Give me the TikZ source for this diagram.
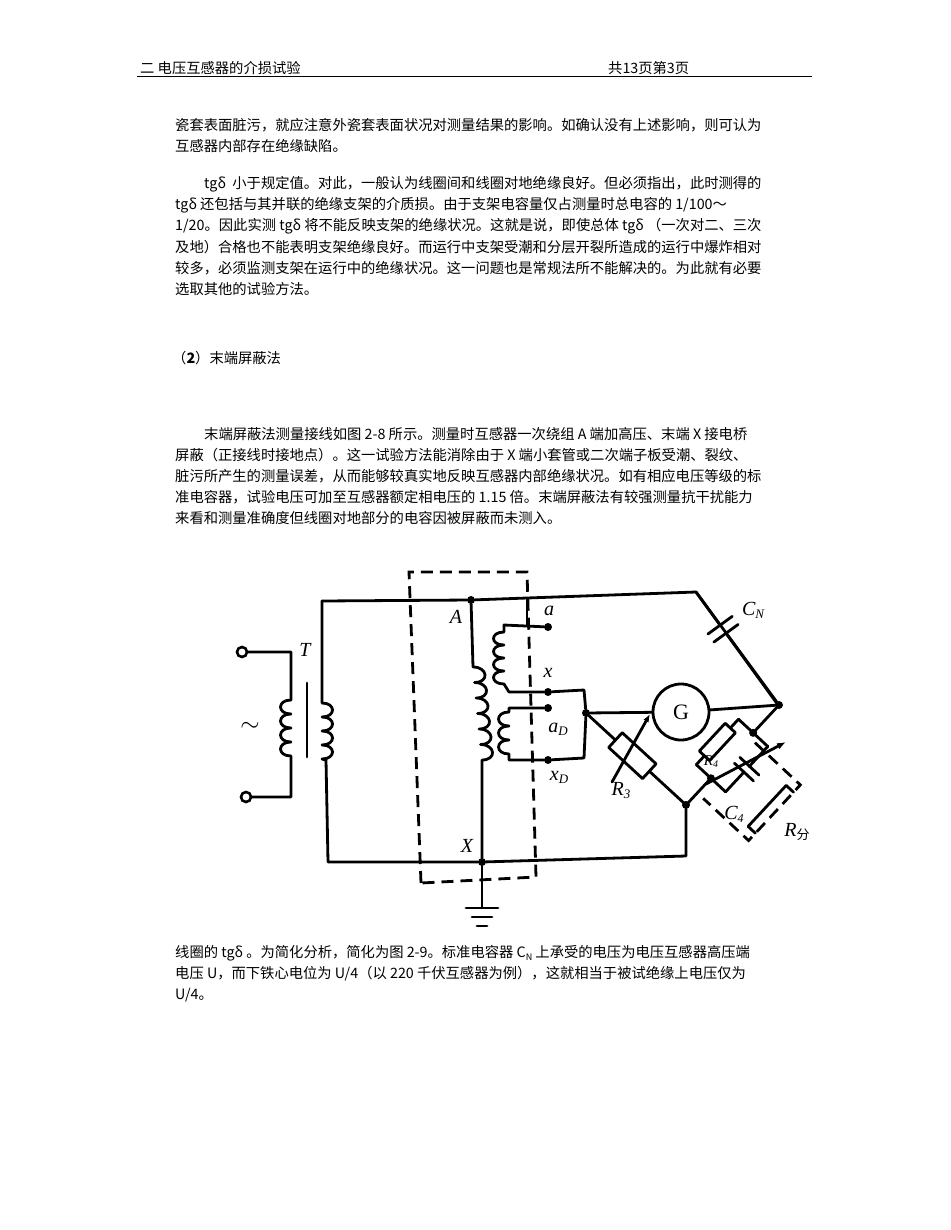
\documentclass[tikz,border=0pt]{standalone}
\usepackage{fontspec}
\setmainfont{Liberation Serif}
\newfontfamily\cjk{Noto Sans CJK SC}
\usetikzlibrary{arrows.meta}
\tikzset{
  wire/.style={line width=2.8pt, line join=round, line cap=round},
  shield/.style={line width=2.8pt, dash pattern=on 12pt off 7pt},
  dotn/.style={circle, fill=black, inner sep=0pt, minimum size=8pt},
  term/.style={circle, draw, line width=2.6pt, fill=white, inner sep=0pt, minimum size=10pt},
  lab/.style={font=\fontsize{20}{20}\selectfont\itshape, inner sep=0pt},
  txt/.style={font=\cjk\fontsize{14.3}{14.3}\selectfont, anchor=west, inner sep=0pt},
}
\begin{document}
\begin{tikzpicture}[x=1pt,y=-1pt]
\useasboundingbox[fill=white] (0,0) rectangle (950,1230);
% header
\node[txt] (h1) at (140,68) {二 电压互感器的介损试验};
\node[txt] (h2) at (608,68) {共13页第3页};
\draw[line width=0.8pt] (137,76) -- (812,76);
% body text
\node[txt] (t1) at (175,125) {瓷套表面脏污，就应注意外瓷套表面状况对测量结果的影响。如确认没有上述影响，则可认为};
\node[txt] (t2) at (175,146) {互感器内部存在绝缘缺陷。};
\node[txt] (t3) at (204,184) {tgδ\ \ 小于规定值。对此，一般认为线圈间和线圈对地绝缘良好。但必须指出，此时测得的};
\node[txt] (t4) at (175,205) {tgδ 还包括与其并联的绝缘支架的介质损。由于支架电容量仅占测量时总电容的 1/100～};
\node[txt] (t5) at (175,226) {1/20。因此实测 tgδ 将不能反映支架的绝缘状况。这就是说，即使总体 tgδ （一次对二、三次};
\node[txt] (t6) at (175,247) {及地）合格也不能表明支架绝缘良好。而运行中支架受潮和分层开裂所造成的运行中爆炸相对};
\node[txt] (t7) at (175,268) {较多，必须监测支架在运行中的绝缘状况。这一问题也是常规法所不能解决的。为此就有必要};
\node[txt] (t8) at (175,289) {选取其他的试验方法。};
\node[txt] (t9) at (172,358) {（\textbf{2}）末端屏蔽法};
\node[txt] (t10) at (204,434) {末端屏蔽法测量接线如图 2-8 所示。测量时互感器一次绕组 A 端加高压、末端 X 接电桥};
\node[txt] (t11) at (175,455) {屏蔽（正接线时接地点）。这一试验方法能消除由于 X 端小套管或二次端子板受潮、裂纹、};
\node[txt] (t12) at (175,476) {脏污所产生的测量误差，从而能够较真实地反映互感器内部绝缘状况。如有相应电压等级的标};
\node[txt] (t13) at (175,497) {准电容器，试验电压可加至互感器额定相电压的 1.15 倍。末端屏蔽法有较强测量抗干扰能力};
\node[txt] (t14) at (175,518) {来看和测量准确度但线圈对地部分的电容因被屏蔽而未测入。};
\node[txt] (t15) at (175,953) {线圈的 tgδ 。为简化分析，简化为图 2-9。标准电容器 C\raisebox{-3pt}{\fontsize{9}{9}\selectfont N} 上承受的电压为电压互感器高压端};
\node[txt] (t16) at (175,974) {电压 U，而下铁心电位为 U/4（以 220 千伏互感器为例），这就相当于被试绝缘上电压仅为};
\node[txt] (t17) at (175,995) {U/4。};

% ===== circuit =====
\coordinate (TL) at (322,601);
\coordinate (BL) at (328,862);
\node[dotn] (A) at (471,600) {};
\node[dotn] (X) at (482,862) {};
\coordinate (TR) at (696,592);
\node[dotn] (J) at (779,705) {};
\node[dotn] (N) at (586,713) {};
\node[dotn] (M) at (686,805) {};
\coordinate (BR) at (686,856);
\node[draw, circle, line width=2.8pt, minimum size=56pt, inner sep=0pt, font=\fontsize{22}{22}\selectfont] (G) at (681,712) {G};

% source
\node[term] (S1) at (242,652) {};
\node[term] (S2) at (246,797) {};
\node at (250,727) {\fontsize{26}{26}\selectfont $\sim$};
\node[lab] (T) at (305,650) {T};
\draw[wire] (S1) -- (291,652) -- (291,700)
  \foreach \k in {1,...,4}{ .. controls +(-14,0) and +(-14,0) .. ++(0,14)} -- (291,797) -- (S2);
\draw[wire] (307,683) -- (307,757);
\draw[wire] (TL) -- (A) -- (TR) -- (J);
\draw[wire] (TL) -- (322,703)
  \foreach \k in {1,...,4}{ .. controls +(14,0) and +(14,0) .. ++(0,14)} -- (326,760) -- (BL) -- (X) -- (BR) -- (M);

% main winding
\draw[wire] (A) -- (473,667)
  \foreach \k in {1,...,6}{ .. controls +(15,0) and +(15,0) .. ++(1.5,15.5)} -- (X);
\node[lab] (Alab) at (456,617) {A};
\node[lab] (Xlab) at (467,846) {X};

% ground
\draw[wire] (X) -- (482,907);
\draw[wire] (466,908) -- (498,908);
\draw[wire] (472,917) -- (492,917);
\draw[wire] (477,926) -- (487,926);

% secondary a-x
\node[dotn] (a) at (548,627) {};
\node[dotn] (x) at (548,692) {};
\node[dotn] (aD) at (548,708) {};
\node[dotn] (xD) at (548,760) {};
\draw[wire] (527,600) -- (527,625);
\draw[wire] (a) -- (504,625) -- (504,632)
  \foreach \k in {1,...,4}{ .. controls +(-14,0) and +(-14,0) .. ++(0,13)} -- (509,692) -- (x);
\draw[wire] (aD) -- (509,708) -- (509,712)
  \foreach \k in {1,...,3}{ .. controls +(-14,0) and +(-14,0) .. ++(0,14)} -- (509,760) -- (xD);
\draw[wire] (x) -- (584,690) -- (N) -- (584,758) -- (xD);
\node[lab] (alab) at (549,611) {a};
\node[lab] (xlab) at (548,673) {x};
\node[lab] (aDlab) at (558,729) {a\raisebox{-3pt}{\fontsize{13}{13}\selectfont D}};
\node[lab] (xDlab) at (559,777) {x\raisebox{-3pt}{\fontsize{13}{13}\selectfont D}};

% shield
\draw[shield] (421,883) -- (409,572) -- (527,572) -- (536,877) -- (421,883);

% G branch
\draw[wire] (N) -- (G) -- (J);

% CN
\begin{scope}[shift={(TR)}, rotate=-54]
  \draw[wire] (0,0) -- (41,0);
  \draw[wire] (51,0) -- (140,0);
  \draw[wire] (41,-15) -- (41,15);
  \draw[wire] (51,-15) -- (51,15);
\end{scope}
\node[lab] (CN) at (753,610) {C\raisebox{-3pt}{\fontsize{13}{13}\selectfont N}};

% R3
\begin{scope}[shift={(N)}, rotate=-42.6]
  \draw[wire] (0,0) -- (40,0);
  \draw[wire, fill=white] (40,-10) rectangle (86,10);
  \draw[wire] (86,0) -- (136,0);
\end{scope}
\draw[wire, -{Latex[length=8pt]}] (612,782) -- (650,714);
\node[lab] (R3) at (621,791) {R\raisebox{-3pt}{\fontsize{13}{13}\selectfont 3}};

% bridge arm
\begin{scope}[shift={(J)}, rotate=-132.9]
  \draw[wire] (0,0) -- (38,0) (100,0) -- (137,0);
  \draw[wire] (38,20) -- (38,-20) (100,20) -- (100,-20);
  \draw[wire] (38,20) -- (50,20) (88,20) -- (100,20);
  \draw[wire, fill=white] (50,13) rectangle (88,27);
  \draw[wire] (38,-20) -- (65,-20) (73,-20) -- (100,-20);
  \draw[wire] (65,-33) -- (65,-7) (73,-33) -- (73,-7);
  \draw[shield] (44,-8) -- (44,-70) -- (120,-70) -- (120,-8);
  \draw[wire] (54,-70) -- (54,-60) -- (110,-60) -- (110,-70);
  \node[dotn] (P1) at (38,0) {};
  \node[dotn] (P2) at (100,0) {};
\end{scope}
\draw[wire, -{Latex[length=9pt]}] (706,784) -- (786,742);
\node[lab, font=\fontsize{15}{15}\selectfont\itshape] (R4) at (711,762) {R\raisebox{-2pt}{\fontsize{10}{10}\selectfont 4}};
\node[lab] (C4) at (734,814) {C\raisebox{-3pt}{\fontsize{12}{12}\selectfont 4}};
\node[lab] (Rf) at (797,832) {R\raisebox{-3pt}{\fontsize{13}{13}\selectfont\upshape\cjk 分}};
\end{tikzpicture}
\end{document}
